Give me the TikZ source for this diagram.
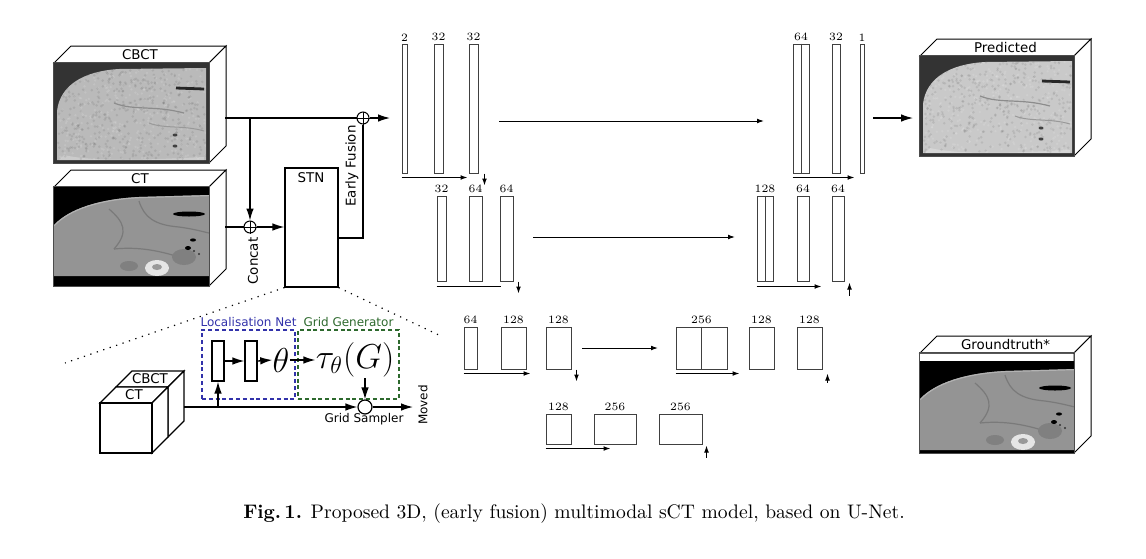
\documentclass[tikz,border=0pt]{standalone}
\usepackage{fontspec}
\newfontfamily\dvs{DejaVu Sans}
\usetikzlibrary{arrows.meta,fit,calc}
\definecolor{locblue}{RGB}{50,50,170}
\definecolor{gridgreen}{RGB}{45,105,45}

% body shapes for the scan pictures (local 155 x 100 frame)
\newcommand\cbctbody{(3,97) -- (3,48) .. controls (6,22) and (30,8) .. (65,6) -- (152,5) -- (152,97) -- cycle}
\newcommand\ctbody{(0,89) -- (0,38) .. controls (15,22) and (45,12) .. (85,10) -- (155,8) -- (155,89) -- cycle}

\newcommand\imgcbct[2]{% #1 body shade, #2 seed
  \fill[black!80] (0,0) rectangle (155,100);
  \begin{scope}
    \clip \cbctbody;
    \fill[black!#1] (0,0) rectangle (155,100);
    \fill[white, opacity=0.25] (10,92) .. controls (40,99) and (90,97) .. (150,94) -- (150,97) -- (5,97) -- cycle;
    \pgfmathsetseed{#2}
    \foreach \k in {1,...,420}{%
      \pgfmathsetmacro\xx{4+148*rnd}\pgfmathsetmacro\yy{6+90*rnd}%
      \fill[black, opacity=0.08] (\xx,\yy) circle (1.4);}
    \foreach \k in {1,...,300}{%
      \pgfmathsetmacro\xx{4+148*rnd}\pgfmathsetmacro\yy{6+90*rnd}%
      \fill[white, opacity=0.12] (\xx,\yy) circle (1.3);}
    \draw[black!45, line width=0.6pt] (60,40) .. controls (80,48) and (100,42) .. (130,50);
    \draw[black!40, line width=0.5pt] (95,60) .. controls (110,66) and (130,62) .. (150,68);
  \end{scope}
  \draw[black!85, line width=1.4pt] (122,25) -- (150,26);
  \fill[black!75] (121,72) ellipse (2.5 and 1.5);
  \fill[black!75] (121,83) ellipse (2.5 and 1.5);
}

\newcommand\imgct{%
  \fill[black] (0,0) rectangle (155,100);
  \begin{scope}
    \clip \ctbody;
    \fill[black!42] (0,0) rectangle (155,100);
    \draw[black!30, line width=1.2pt] (0,38) .. controls (15,22) and (45,12) .. (85,10) -- (155,8);
    \draw[black!52, line width=0.6pt] (55,22) .. controls (70,35) and (75,45) .. (60,62);
    \draw[black!52, line width=0.6pt] (85,14) .. controls (90,30) and (100,38) .. (125,40) .. controls (140,42) and (150,45) .. (155,46);
    \draw[black!52, line width=0.6pt] (60,62) .. controls (80,60) and (100,62) .. (125,70);
    \fill[black!50] (75,79) ellipse (9 and 5);
    \fill[black!10] (103,81) ellipse (12 and 8);
    \fill[black!40] (103,80) ellipse (5 and 3);
    \fill[black!50] (130,70) ellipse (12 and 8);
  \end{scope}
  \fill[black] (135,27) ellipse (16 and 2.5);
  \fill[black] (139,53) ellipse (3 and 1.6);
  \fill[black] (134,61) ellipse (3 and 2);
  \fill[black!80] (140,64) circle (1.2);
  \fill[black!80] (145,67) circle (1.2);
}

% 3D box: name, x1, y1, x2, y2 (front face), label
\newcommand\scanbox[6]{%
  \filldraw[fill=white, draw=black, line width=0.5pt] (#2,#3) -- ++(17,-17) -- (#4+17,#3-17) -- (#4,#3) -- cycle;
  \filldraw[fill=white, draw=black, line width=0.5pt] (#4,#3) -- ++(17,-17) -- (#4+17,#5-17) -- (#4,#5) -- cycle;
  \node[inner sep=0, fit={(#2,#3)(#4,#5)}] (#1) {};
  \node[lbl] at ($(#2,#3)!0.5!(#4+17,#3-17)$) {#6};
}

\newcommand\ubarnode[6]{%
  \node[ubar, fit={(#2,#4)(#3,#5)}] (#1) {};
  \node[num, anchor=south] at (#1.north) {#6};
}

\tikzset{
  lbl/.style={font=\dvs\fontsize{6.7}{8}\selectfont, inner sep=0.5pt},
  lbls/.style={font=\dvs\fontsize{6}{7}\selectfont, inner sep=0.5pt},
  num/.style={font=\fontsize{5.6}{6}\selectfont, inner sep=1pt},
  ubar/.style={draw=black!75, line width=0.5pt, inner sep=0},
  uarr/.style={line width=0.5pt, -{Latex[length=3.5pt,width=2.4pt]}},
  uline/.style={line width=0.5pt},
  mline/.style={line width=0.65pt},
  marr/.style={line width=0.65pt, -{Latex[length=6pt,width=3.8pt]}},
  plus/.style={circle, draw, line width=0.5pt, minimum size=6pt, inner sep=0},
  dotline/.style={line width=0.6pt, dash pattern=on 0.6pt off 2.8pt},
}

\begin{document}
\begin{tikzpicture}[x=0.5pt,y=-0.5pt]
\useasboundingbox (0,0) rectangle (1146,558);

% ---------- input scans ----------
\scanbox{cbct}{54}{63}{209}{163}{CBCT}
\begin{scope}[shift={(54,63)}]
  \clip (0,0) rectangle (155,100);
  \imgcbct{27}{7}
\end{scope}
\draw[black!70, line width=0.5pt] (cbct.north west) rectangle (cbct.south east);

\scanbox{ct}{54}{187}{209}{286}{CT}
\begin{scope}[shift={(54,187)}]
  \clip (0,0) rectangle (155,99);
  \imgct
\end{scope}
\draw[black!70, line width=0.5pt] (ct.north west) rectangle (ct.south east);

% ---------- STN / fusion ----------
\node[plus] (c1) at (250,227) {};
\draw[line width=0.45pt] (c1.north) -- (c1.south) (c1.west) -- (c1.east);
\node[plus] (c2) at (363,118) {};
\draw[line width=0.45pt] (c2.north) -- (c2.south) (c2.west) -- (c2.east);

\node[draw, line width=0.6pt, inner sep=0, fit={(285,168)(338,287)}] (stn) {};
\node[lbl] at (311,178) {STN};

\coordinate (cbctout) at (225,118);
\coordinate (j1) at (250,118);
\coordinate (ctout) at (225,227);
\coordinate (stnout) at (338,238);
\coordinate (unetin) at (390,118);

\draw[mline] (cbctout) -- (c2.west);
\draw[marr] (j1) -- (c1.north);
\draw[mline] (ctout) -- (c1.west);
\draw[marr] (c1.east) -- (c1.east -| stn.west);
\draw[mline] (stnout) -| (c2.south);
\draw[marr] (c2.east) -- (unetin);

\node[lbl, rotate=90] at (352,166) {Early Fusion};
\node[lbl, rotate=90] at (253,261) {Concat};

% dotted zoom lines
\coordinate (zl) at (65,363);
\coordinate (zr) at (443,337);
\draw[dotline] (stn.south west) -- (zl);
\draw[dotline] (stn.south east) -- (zr);

% ---------- STN detail ----------
\node[draw=locblue, line width=0.6pt, dash pattern=on 2pt off 1.4pt, inner sep=0, fit={(202,330)(295,399)}] (loc) {};
\node[lbls, text=locblue, anchor=south] at ($(loc.north)+(0,-1)$) {Localisation Net};
\node[draw=gridgreen, line width=0.6pt, dash pattern=on 2pt off 1.4pt, inner sep=0, fit={(298,330)(399,399)}] (grid) {};
\node[lbls, text=gridgreen, anchor=south] at ($(grid.north)+(0,-1)$) {Grid Generator};

\node[draw, line width=0.6pt, inner sep=0, fit={(212,341)(224,381)}] (r1) {};
\node[draw, line width=0.6pt, inner sep=0, fit={(245,341)(257,381)}] (r2) {};
\node[font=\fontsize{17}{20}\selectfont, inner sep=0] (theta) at (281,360) {$\theta$};
\node[font=\fontsize{17}{20}\selectfont, inner sep=0] (tau) at (355,360) {$\tau_\theta(G)$};
\node[circle, draw, line width=0.6pt, minimum size=7pt, inner sep=0] (gs) at (365,407) {};

\draw[marr] (r1.east) -- (r2.west);
\draw[marr] (r2.east) -- (theta.west);
\draw[marr] (theta.east) -- (tau.west);
\coordinate (taub) at (365,378);
\draw[marr] (taub) -- (gs.north);

% CT / CBCT cube
\filldraw[fill=white, draw=black, line width=0.6pt] (116,387) -- (132,371) -- (184,371) -- (168,387) -- cycle;
\filldraw[fill=white, draw=black, line width=0.6pt] (168,387) -- (184,371) -- (184,421) -- (168,437) -- cycle;
\filldraw[fill=white, draw=black, line width=0.6pt] (100,403) -- (116,387) -- (168,387) -- (152,403) -- cycle;
\filldraw[fill=white, draw=black, line width=0.6pt] (152,403) -- (168,387) -- (168,437) -- (152,453) -- cycle;
\node[draw, fill=white, line width=0.6pt, inner sep=0, fit={(100,403)(152,453)}] (cube) {};
\node[lbl] at (150,379) {CBCT};
\node[lbl] at (134,395) {CT};

\coordinate (cubeout) at (184,407);
\coordinate (brk) at (218,407);
\coordinate (moved) at (413,407);
\draw[marr] (cubeout) -- (gs.west);
\draw[marr] (brk) -- (r1.south);
\draw[marr] (gs.east) -- (moved);
\node[lbls, rotate=90] at (423,405) {Moved};
\node[lbls] at (364,419) {Grid Sampler};

% ---------- U-Net ----------
\ubarnode{b11}{402}{407}{44}{173}{2}
\ubarnode{b12}{434}{443}{44}{173}{32}
\ubarnode{b13}{469}{478}{44}{173}{32}
\ubarnode{b14}{793}{809}{44}{173}{64}
\ubarnode{b15}{832}{840}{44}{173}{32}
\ubarnode{b16}{860}{864}{44}{173}{1}
\ubarnode{b21}{437}{446}{196}{281}{32}
\ubarnode{b22}{469}{482}{196}{281}{64}
\ubarnode{b23}{500}{513}{196}{281}{64}
\ubarnode{b24}{757}{773}{196}{281}{128}
\ubarnode{b25}{797}{809}{196}{281}{64}
\ubarnode{b26}{832}{844}{196}{281}{64}
\ubarnode{b31}{464}{477}{327}{369}{64}
\ubarnode{b32}{501}{526}{327}{369}{128}
\ubarnode{b33}{546}{571}{327}{369}{128}
\ubarnode{b34}{676}{727}{327}{369}{256}
\ubarnode{b35}{749}{774}{327}{369}{128}
\ubarnode{b36}{797}{822}{327}{369}{128}
\ubarnode{b41}{546}{571}{414}{444}{128}
\ubarnode{b42}{594}{636}{414}{444}{256}
\ubarnode{b43}{659}{702}{414}{444}{256}
\draw[ubar] (b14.north) -- (b14.south);
\draw[ubar] (b24.north) -- (b24.south);
\draw[ubar] (b34.north) -- (b34.south);

% level 1
\draw[uarr] ($(b11.south west)+(0,4)$) -- ($(b13.south west)+(-1,4)$);
\draw[uarr] ($(b13.south east)+(6,0)$) -- ++(0,12);
\coordinate (s1a) at (499,121);
\coordinate (s1b) at (764,121);
\draw[uarr] (s1a) -- (s1b);
\draw[uarr] ($(b14.south west)+(0,4)$) -- ($(b16.south west)+(-5,4)$);
% level 2
\draw[uline] ($(b21.south west)+(0,5)$) -- ($(b23.south west)+(1,5)$);
\draw[uarr] ($(b23.south east)+(5,0)$) -- ++(0,12);
\coordinate (s2a) at (533,237);
\coordinate (s2b) at (735,237);
\draw[uarr] (s2a) -- (s2b);
\draw[uarr] ($(b24.south west)+(0,5)$) -- ($(b26.south west)+(-10,5)$);
\draw[uarr] ($(b26.south east)+(5,14)$) -- ++(0,-13);
% level 3
\draw[uarr] ($(b31.south west)+(0,4)$) -- ($(b32.south east)+(4,4)$);
\draw[uarr] ($(b33.south east)+(5,0)$) -- ++(0,12);
\coordinate (s3a) at (582,348);
\coordinate (s3b) at (658,348);
\draw[uarr] (s3a) -- (s3b);
\draw[uarr] ($(b34.south west)+(0,4)$) -- ($(b35.south west)+(-9,4)$);
\draw[uarr] ($(b36.south east)+(5,13)$) -- ++(0,-9);
% level 4
\draw[uarr] ($(b41.south west)+(0,4)$) -- ($(b42.south west)+(17,4)$);
\draw[uarr] ($(b43.south east)+(4,13)$) -- ++(0,-12);

% ---------- outputs ----------
\scanbox{pred}{920}{56}{1074}{156}{Predicted}
\begin{scope}[shift={(920,56)}]
  \clip (0,0) rectangle (154,100);
  \imgcbct{21}{11}
\end{scope}
\draw[black!70, line width=0.5pt] (pred.north west) rectangle (pred.south east);

\coordinate (uout) at (873,118);
\coordinate (predin) at (913,118);
\draw[marr] (uout) -- (predin);

\scanbox{gt}{920}{353}{1074}{453}{Groundtruth*}
\begin{scope}[shift={(920,353)}]
  \clip (0,0) rectangle (154,100);
  \begin{scope}[yshift=-4pt]
  \imgct
  \end{scope}
\end{scope}
\draw[black!70, line width=0.5pt] (gt.north west) rectangle (gt.south east);

% ---------- caption ----------
\node[font=\fontsize{9.8}{12}\selectfont, inner sep=0] (cap) at (574,514) {\textbf{Fig.\,1.} Proposed 3D, (early fusion) multimodal sCT model, based on U-Net.};
\end{tikzpicture}
\end{document}
